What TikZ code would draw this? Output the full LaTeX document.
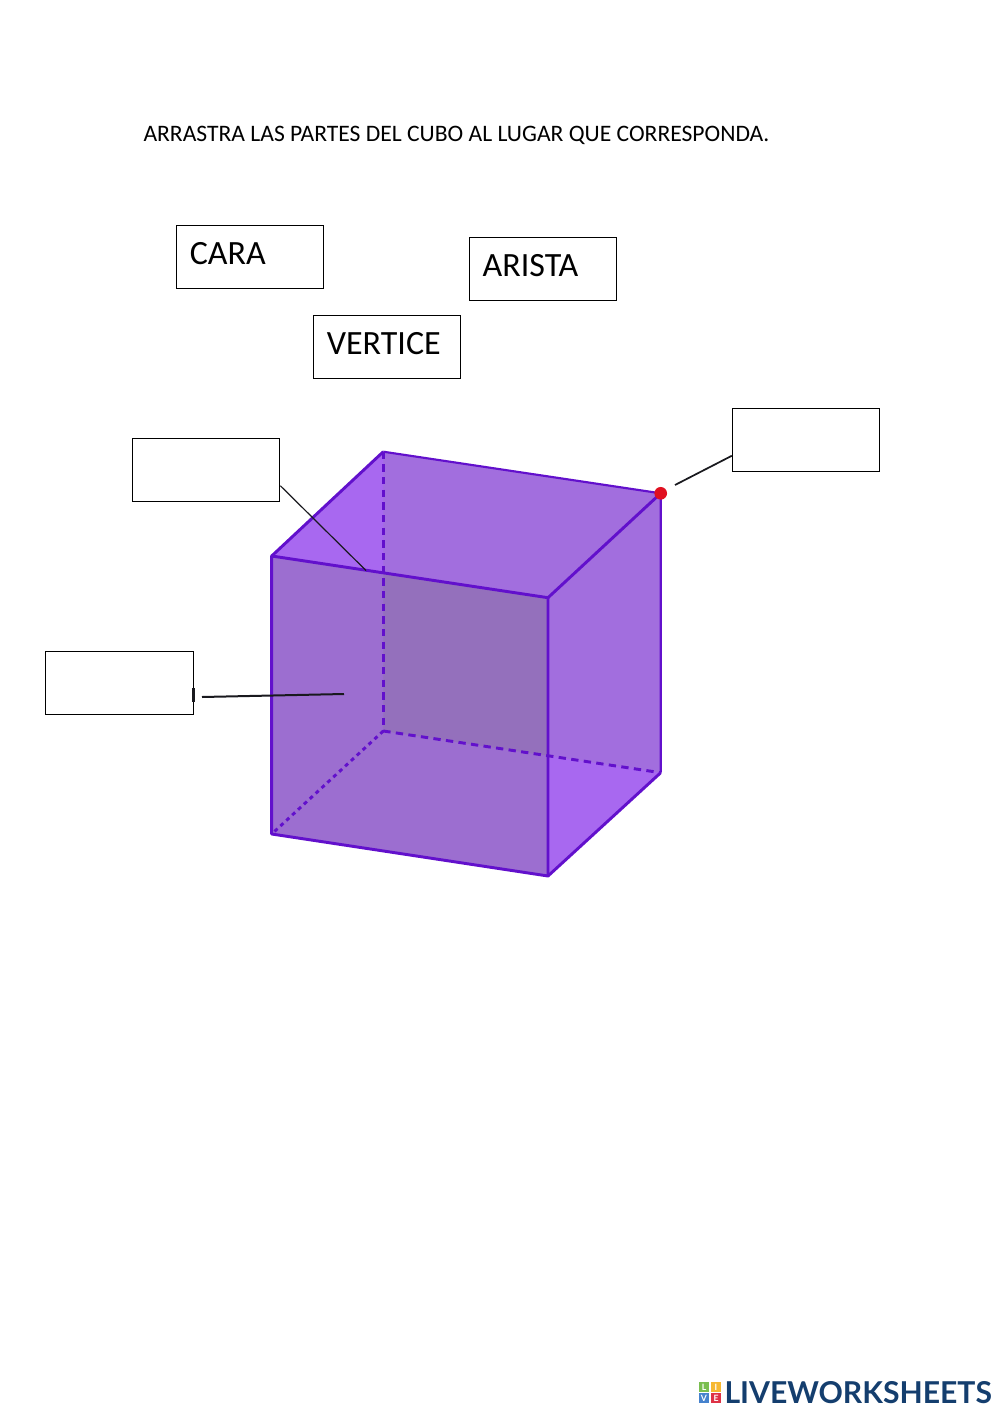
\documentclass[tikz,border=0pt]{standalone}
\usepackage{fontspec}
\setmainfont{Carlito}
\newfontfamily\logofont{Lato}
\tikzset{every picture/.style={line width=0.75pt}}
\tikzset{
	labelbox/.style={draw=black,line width=0.8pt,fill=white,minimum width=110.5pt,minimum height=47.5pt,inner xsep=10pt,inner ysep=0pt,text width=90.5pt,align=left,text height=17pt,text depth=5.5pt,font=\fontsize{25.5}{28}\selectfont},
	pointer/.style={draw={rgb, 255:red, 25; green, 25; blue, 30},line width=1.3pt},
	edge/.style={draw={rgb, 255:red, 98; green, 16; blue, 204},line width=2.2pt},
	hidden/.style={edge,dash pattern=on 5.5pt off 4pt},
	tile/.style={minimum size=8.2pt,inner sep=0pt,text=white,font=\logofont\bfseries\fontsize{6.5}{7}\selectfont}
}

\begin{document}
\begin{tikzpicture}[x=0.75pt,y=0.75pt,yscale=-1,xscale=1]
		\useasboundingbox (0,0) rectangle (1000,1413);
		
		% Text Node
		\node (title) [anchor=west,inner sep=0pt,font=\fontsize{17.7}{20}\selectfont] at (143,135) {ARRASTRA LAS PARTES DEL CUBO AL LUGAR QUE CORRESPONDA.};
		
		%Shape: Cube faces
		\fill [fill={rgb, 255:red, 168; green, 104; blue, 240}] (271.7,556) -- (383.3,451.7) -- (660.7,493.3) -- (660.7,772.7) -- (548,876) -- (271.7,834) -- cycle ;
		\fill [fill={rgb, 255:red, 162; green, 110; blue, 222}] (383.3,451.7) -- (660.7,493.3) -- (660.7,772.7) -- (383.3,731) -- cycle ;
		\fill [fill={rgb, 255:red, 156; green, 110; blue, 208}] (271.7,556) -- (548,597.7) -- (548,876) -- (271.7,834) -- cycle ;
		\fill [fill={rgb, 255:red, 148; green, 112; blue, 188}] (383.3,572.8) -- (548,597.7) -- (548,755.8) -- (383.3,731) -- cycle ;
		
		%Shape: Cube hidden edges
		\draw [hidden] (383.3,451.7) -- (383.3,731) ;
		\draw [hidden] (383.3,731) -- (660.7,772.7) ;
		\draw [hidden,dash pattern=on 3pt off 3pt] (383.3,731) -- (271.7,834) ;
		\draw [edge,line width=1.6pt] (383.3,451.7) -- (660.7,493.3) -- (660.7,772.7) ;
		
		%Shape: Cube visible edges
		\draw [edge,line join=round] (271.7,556) -- (548,597.7) -- (548,876) -- (271.7,834) -- cycle ;
		\draw [edge] (271.7,556) -- (383.3,451.7) ;
		\draw [edge] (548,597.7) -- (660.7,493.3) ;
		\draw [edge] (548,876) -- (660.7,772.7) ;
		
		%Shape: Circle
		\node (corner) [circle,fill={rgb, 255:red, 224; green, 16; blue, 32},minimum size=9.5pt,inner sep=0pt] at (660.7,493.3) {};
		
		% Text Node
		\node (cara) [labelbox] at (250.2,257.2) {CARA};
		% Text Node
		\node (arista) [labelbox] at (543,269.2) {ARISTA};
		% Text Node
		\node (vertice) [labelbox] at (387.2,347) {VERTICE};
		
		%Shape: Rectangle
		\node (boxarista) [labelbox] at (206.2,470) {};
		%Shape: Rectangle
		\node (boxvertice) [labelbox] at (806,440) {};
		%Shape: Rectangle
		\node (boxcara) [labelbox] at (119.5,683) {};
		
		\coordinate (onedge) at (366,570.5);
		\coordinate (nearcorner) at (675,485);
		\coordinate (nearbox) at (202,697);
		\coordinate (onface) at (344,694);
		\coordinate (ticktop) at (193.5,688);
		\coordinate (tickend) at (193.5,702);
		
		\draw [pointer,line width=0.9pt] (boxarista.-12) -- (onedge) ;
		\draw [pointer] (boxvertice.192) -- (nearcorner) ;
		\draw [pointer,line width=1.5pt] (nearbox) -- (onface) ;
		\draw [pointer,line width=1.6pt] (ticktop) -- (tickend) ;
		
		%Logo
		\node (tileL) [tile,fill={rgb, 255:red, 122; green, 190; blue, 80}] at (704,1387) {L};
		\node (tileI) [tile,fill={rgb, 255:red, 246; green, 184; blue, 50}] at (716,1387) {I};
		\node (tileV) [tile,fill={rgb, 255:red, 70; green, 130; blue, 205}] at (704,1398) {V};
		\node (tileE) [tile,fill={rgb, 255:red, 222; green, 50; blue, 70}] at (716,1398) {E};
		\node (logo) [anchor=west,inner sep=0pt,text={rgb, 255:red, 20; green, 62; blue, 110},font=\logofont\bfseries\fontsize{22.6}{24}\selectfont] at (724,1392.5) {LIVEWORKSHEETS};
		
		\end{tikzpicture}
\end{document}
